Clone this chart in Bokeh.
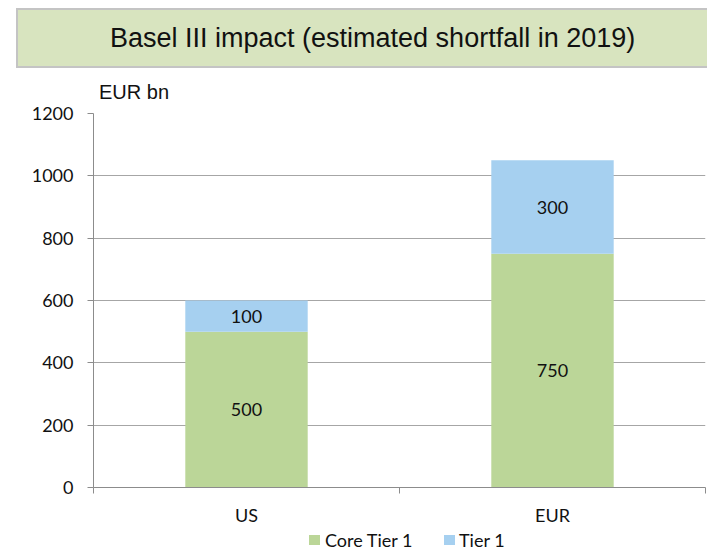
from bokeh.plotting import figure
from bokeh.models import ColumnDataSource, FixedTicker, LabelSet, Div
from bokeh.core.properties import value
from bokeh.layouts import column
from bokeh.embed import file_html
from bokeh.resources import INLINE

categories = ["US", "EUR"]
core_tier1 = [500, 750]
tier1 = [100, 300]
y_ticks = [0, 200, 400, 600, 800, 1000, 1200]
series_names = ["Core Tier 1", "Tier 1"]
title_text = "Basel III impact (estimated shortfall in 2019)"
unit_text = "EUR bn"

GREEN = "#bbd698"
BLUE = "#a6d0f0"
AXIS = "#8c8c8c"
GRID = "#a6a6a6"
FONT = "Lato"
TXT = "#111111"

# ---------------- title banner + unit label (HTML) ----------------
header_html = (
    '<div style="position:relative;width:707px;height:103px;">'
    '<div style="position:absolute;left:16px;top:8px;width:691px;height:60px;'
    'box-sizing:border-box;background:#d8e4bf;border:2px solid #c4c4c4;'
    'border-right:none;"></div>'
    '<div style="position:absolute;left:110px;top:8px;height:60px;line-height:60px;'
    'font-family:\'Liberation Sans\',Arial,sans-serif;font-size:27px;color:#111111;'
    'white-space:nowrap;">' + title_text + '</div>'
    '<div style="position:absolute;left:99px;top:82px;height:21px;line-height:21px;'
    'font-family:\'Liberation Sans\',Arial,sans-serif;font-size:20px;color:#111111;'
    'white-space:nowrap;">' + unit_text + '</div>'
    '</div>'
)
header = Div(text=header_html, width=707, height=103, margin=0)

# ---------------- chart ----------------
xs = [i + 0.5 for i in range(len(categories))]
src = ColumnDataSource(dict(
    x=xs,
    core=core_tier1,
    tier=tier1,
    top=[c + v for c, v in zip(core_tier1, tier1)],
    core_mid=[c / 2 for c in core_tier1],
    tier_mid=[c + v / 2 for c, v in zip(core_tier1, tier1)],
    core_lbl=[str(v) for v in core_tier1],
    tier_lbl=[str(v) for v in tier1],
    zero=[0] * len(categories),
))

p = figure(width=707, height=427, x_range=(0, len(categories)),
           y_range=(y_ticks[0], y_ticks[-1]),
           output_backend="svg", toolbar_location=None,
           min_border_left=93, min_border_right=2, min_border_top=10,
           min_border_bottom=43)
p.outline_line_color = None
p.background_fill_color = "white"
p.border_fill_color = "white"

p.ygrid.grid_line_color = GRID
p.ygrid.grid_line_width = 1
p.xgrid.grid_line_color = None

p.vbar(x="x", bottom="zero", top="core", width=0.4, source=src,
       fill_color=GREEN, line_color=None)
p.vbar(x="x", bottom="core", top="top", width=0.4, source=src,
       fill_color=BLUE, line_color=None)

for ycol, lcol in (("core_mid", "core_lbl"), ("tier_mid", "tier_lbl")):
    p.add_layout(LabelSet(x="x", y=ycol, text=lcol, source=src,
                          text_align="center", text_baseline="middle",
                          text_font=value(FONT), text_font_size=value("18px"),
                          text_color=TXT))

p.yaxis.ticker = FixedTicker(ticks=y_ticks)
p.yaxis.axis_line_color = AXIS
p.yaxis.major_tick_line_color = AXIS
p.yaxis.major_tick_out = 6
p.yaxis.major_tick_in = 0
p.yaxis.minor_tick_line_color = None
p.yaxis.major_label_standoff = 14
p.yaxis.major_label_text_font = FONT
p.yaxis.major_label_text_font_size = "18px"
p.yaxis.major_label_text_color = TXT

p.xaxis.ticker = FixedTicker(ticks=xs, minor_ticks=list(range(len(categories) + 1)))
p.xaxis.major_label_overrides = {x: c for x, c in zip(xs, categories)}
p.xaxis.axis_line_color = AXIS
p.xaxis.major_tick_line_color = None
p.xaxis.minor_tick_line_color = AXIS
p.xaxis.minor_tick_out = 6
p.xaxis.minor_tick_in = 0
p.xaxis.major_label_standoff = 10
p.xaxis.major_label_text_font = FONT
p.xaxis.major_label_text_font_size = "18px"
p.xaxis.major_label_text_color = TXT

# ---------------- legend (HTML, below the chart) ----------------
def _swatch(left, color):
    return ('<div style="position:absolute;left:%dpx;top:5px;width:11px;height:10px;'
            'background:%s;"></div>' % (left, color))

def _label(left, text):
    return ('<div style="position:absolute;left:%dpx;top:0px;height:20px;line-height:20px;'
            'font-family:Lato,sans-serif;font-size:18px;color:#111111;white-space:nowrap;">'
            '%s</div>' % (left, text))

legend_html = ('<div style="position:relative;width:707px;height:20px;">'
               + _swatch(309, GREEN) + _label(325, series_names[0])
               + _swatch(444, BLUE) + _label(459, series_names[1])
               + '</div>')
legend = Div(text=legend_html, width=707, height=20, margin=0)

layout = column(header, p, legend, spacing=0)
open("out.html", "w").write(file_html(layout, INLINE))
